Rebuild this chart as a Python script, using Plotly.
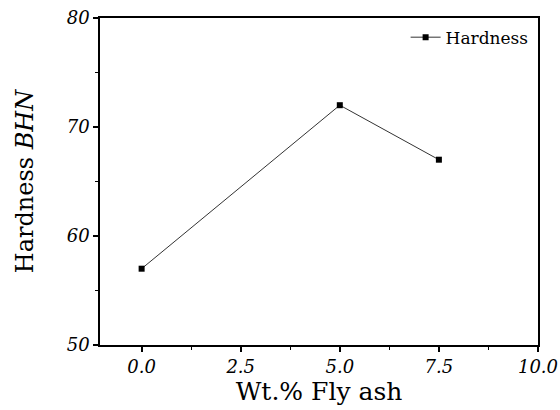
import plotly.graph_objects as go

wt_fly_ash = [0.0, 5.0, 7.5]
hardness = [57, 72, 67]
series_name = "Hardness"
x_ticks = [0, 2.5, 5, 7.5, 10]
x_tick_text = ["0.0", "2.5", "5.0", "7.5", "10.0"]
y_ticks = [50, 60, 70, 80]

fig = go.Figure()
fig.add_trace(go.Scatter(
    x=wt_fly_ash, y=hardness, mode="lines+markers", name=series_name,
    line=dict(color="#333333", width=1),
    marker=dict(symbol="square", size=6, color="black"),
))

def axis_common(minor_dtick):
    return dict(
        showline=True, linecolor="black", linewidth=1.5, mirror=True,
        ticks="outside", ticklen=5, tickwidth=1.5, tickcolor="black",
        showgrid=False, zeroline=False, automargin=False,
        ticklabeloverflow="allow",
        tickfont=dict(family="DejaVu Serif", size=18, style="italic", color="black"),
        minor=dict(ticks="outside", ticklen=3, tickwidth=1, tickcolor="black", dtick=minor_dtick),
    )

fig.update_layout(
    width=560, height=410,
    margin=dict(l=100, r=22, t=18, b=65),
    paper_bgcolor="white", plot_bgcolor="white",
    showlegend=True,
    legend=dict(x=0.99, y=0.995, xanchor="right", yanchor="top",
                font=dict(family="DejaVu Serif", size=17, color="black"),
                bgcolor="rgba(0,0,0,0)", itemwidth=30),
    xaxis=dict(range=[-1.05, 10.0005], tickvals=x_ticks, ticktext=x_tick_text,
               title=dict(text="Wt.% Fly ash", font=dict(family="DejaVu Serif", size=25, color="black"), standoff=6),
               **axis_common(1.25)),
    yaxis=dict(range=[50, 80.0005], tickvals=y_ticks,
               title=dict(text="Hardness <i>BHN</i>", font=dict(family="DejaVu Serif", size=24, color="black"), standoff=26),
               **axis_common(5)),
)

fig.write_html("out.html")
